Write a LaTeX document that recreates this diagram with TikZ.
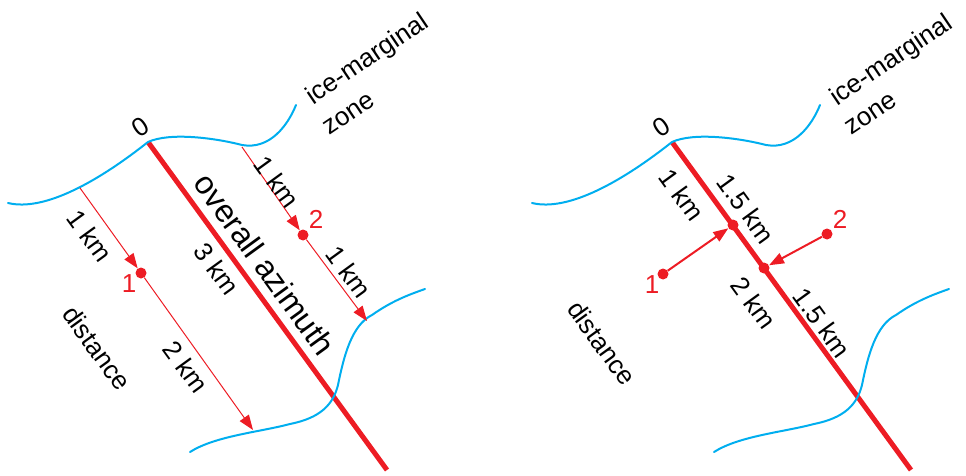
\documentclass[tikz,border=0pt]{standalone}
\usepackage{fontspec}
\setmainfont{Liberation Sans}
\usetikzlibrary{arrows.meta}
\definecolor{gred}{RGB}{237,28,36}
\definecolor{gblue}{RGB}{0,174,239}
\begin{document}
\begin{tikzpicture}[x=1pt,y=-1pt,
 ice/.style={gblue, line width=2pt, line cap=round},
 azi/.style={gred, line width=5pt},
 thinarr/.style={gred, line width=1pt, -{Triangle[length=15pt,width=11pt]}},
 movarr/.style={gred, line width=2pt, -{Triangle[length=15pt,width=11pt]}},
 dot/.style={circle, fill=gred, inner sep=0pt, minimum size=11pt},
 lbl/.style={font=\fontsize{26}{26}\selectfont, inner sep=0pt, rotate=-54},
 big/.style={font=\fontsize{32}{32}\selectfont, inner sep=0pt, rotate=-54},
 num/.style={font=\fontsize{26}{26}\selectfont, text=gred, inner sep=0pt},
 zonel/.style={font=\fontsize{26}{26}\selectfont, inner sep=0pt, rotate=34},
]
\useasboundingbox (0,0) rectangle (966,476);
% ---------- left panel ----------
\coordinate (o1) at (148,142);
\coordinate (e1) at (387,470);
\draw[azi] (o1) -- (e1);
\draw[ice] (8,203) .. controls (45,212) and (100,180) .. (148,142)
  .. controls (170,132) and (215,138) .. (242,145)
  .. controls (270,150) and (288,125) .. (296,105);
\draw[ice] (190,452) .. controls (215,436) and (260,432) .. (290,424)
  .. controls (320,418) and (333,405) .. (338,385)
  .. controls (344,355) and (352,325) .. (372,315)
  .. controls (392,301) and (408,295) .. (425,289);
\coordinate (s1) at (80,188);
\node[dot] (d1) at (141,273) {};
\coordinate (t1) at (253,430);
\coordinate (s2) at (242,147);
\node[dot] (d2) at (303,235) {};
\coordinate (t2) at (367,321);
\draw[thinarr] (s1) -- (d1);
\draw[thinarr] (d1) -- (t1);
\draw[thinarr] (s2) -- (d2);
\draw[thinarr] (d2) -- (t2);
\node[zonel] (z0a) at (140,127) {0};
\node[zonel] (ima) at (368,60) {ice-marginal};
\node[zonel] (zna) at (349,114) {zone};
\node[lbl] (k1a) at (90,236) {1 km};
\node[num] (n1a) at (129,284) {1};
\node[lbl] (dsa) at (97,348) {distance};
\node[lbl] (k2a) at (186,367) {2 km};
\node[lbl] (k3a) at (217,269) {3 km};
\node[big] (aza) at (265,264) {overall azimuth};
\node[lbl] (k4a) at (277,182) {1 km};
\node[num] (n2a) at (316,219) {2};
\node[lbl] (k5a) at (349,272) {1 km};
% ---------- right panel ----------
\coordinate (o2) at (672,142);
\coordinate (e2) at (911,470);
\draw[azi] (o2) -- (e2);
\begin{scope}[xshift=524pt]
\draw[ice] (8,203) .. controls (45,212) and (100,180) .. (148,142)
  .. controls (170,132) and (215,138) .. (242,145)
  .. controls (270,150) and (288,125) .. (296,105);
\draw[ice] (190,452) .. controls (215,436) and (260,432) .. (290,424)
  .. controls (320,418) and (333,405) .. (338,385)
  .. controls (344,355) and (352,325) .. (372,315)
  .. controls (392,301) and (408,295) .. (425,289);
\end{scope}
\node[dot] (a) at (733,225) {};
\node[dot] (b) at (764,268) {};
\node[dot] (p1) at (663,274) {};
\node[dot] (p2) at (827,234) {};
\draw[movarr] (p1) -- (a);
\draw[movarr] (p2) -- (b);
\node[zonel] (z0b) at (661,127) {0};
\node[zonel] (imb) at (892,61) {ice-marginal};
\node[zonel] (znb) at (871,114) {zone};
\node[lbl] (k1b) at (682,195) {1 km};
\node[lbl] (k15a) at (746,209) {1.5 km};
\node[num] (n1b) at (652,285) {1};
\node[num] (n2b) at (840,219) {2};
\node[lbl] (k2b) at (754,303) {2 km};
\node[lbl] (k15b) at (822,323) {1.5 km};
\node[lbl] (dsb) at (602,343) {distance};
\end{tikzpicture}
\end{document}
